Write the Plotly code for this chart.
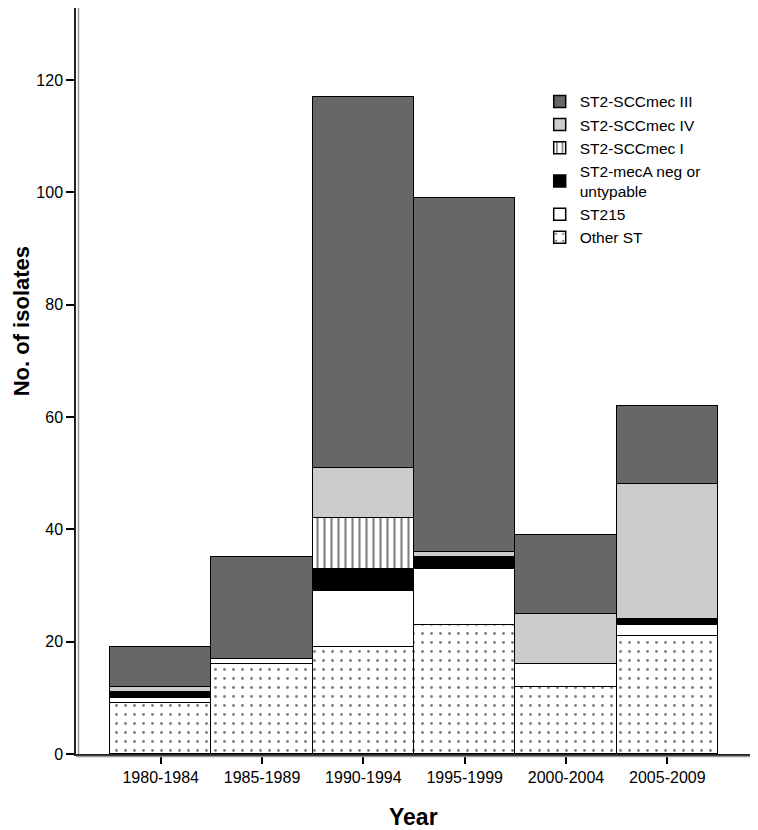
import plotly.graph_objects as go

years = ["1980-1984", "1985-1989", "1990-1994", "1995-1999", "2000-2004", "2005-2009"]

other_st = [9, 16, 19, 23, 12, 21]
st215 = [1, 1, 10, 10, 4, 2]
st2_meca_neg = [1, 0, 4, 2, 0, 1]
st2_sccmec_i = [0, 0, 9, 0, 0, 0]
st2_sccmec_iv = [1, 0, 9, 1, 9, 24]
st2_sccmec_iii = [7, 18, 66, 63, 14, 14]

series = [
    ("Other ST", other_st, dict(color="white", pattern=dict(shape=".", fgcolor="black", bgcolor="white", size=9, solidity=0.08))),
    ("ST215", st215, dict(color="white")),
    ("ST2-mecA neg or<br>untypable", st2_meca_neg, dict(color="black")),
    ("ST2-SCCmec I", st2_sccmec_i, dict(color="white", pattern=dict(shape="|", fgcolor="black", bgcolor="white", size=7, solidity=0.3))),
    ("ST2-SCCmec IV", st2_sccmec_iv, dict(color="#cccccc")),
    ("ST2-SCCmec III", st2_sccmec_iii, dict(color="#676767")),
]

fig = go.Figure()
for name, vals, mk in series:
    mk = dict(mk)
    mk["line"] = dict(color="black", width=1.5)
    fig.add_trace(go.Bar(x=years, y=vals, name=name, marker=mk, width=1))

fig.update_layout(
    width=750, height=822,
    margin=dict(l=68, r=8, t=0, b=76),
    paper_bgcolor="white", plot_bgcolor="white",
    barmode="stack", bargap=0,
    font=dict(family="Liberation Sans, Arial, sans-serif", color="black"),
    showlegend=True,
    legend=dict(x=0.688, y=0.897, xanchor="left", yanchor="top",
                traceorder="reversed", font=dict(size=15.5),
                bgcolor="rgba(0,0,0,0)", tracegroupgap=0, itemwidth=30),
    xaxis=dict(range=[-0.836, 5.816], showline=True, linecolor="#222", linewidth=1.5,
               ticks="outside", ticklen=8, tickwidth=2, tickcolor="black",
               tickfont=dict(size=16), showgrid=False, zeroline=False),
    yaxis=dict(range=[0, 132.8], showline=True, linecolor="#222", linewidth=1.5,
               ticks="outside", ticklen=8, tickwidth=1.5, tickcolor="black",
               tickvals=[0, 20, 40, 60, 80, 100, 120], tickfont=dict(size=16),
               showgrid=False, zeroline=False),
    shapes=[
        dict(type="line", xref="paper", yref="paper", xsizemode="pixel", xanchor=0,
             x0=2.5, x1=2.5, y0=0, y1=1, line=dict(color="#999", width=1.5)),
        dict(type="line", xref="paper", yref="paper", ysizemode="pixel", yanchor=0,
             x0=0, x1=1, y0=-2.5, y1=-2.5, line=dict(color="#999", width=1.5)),
    ],
    annotations=[
        dict(text="<b>No. of isolates</b>", xref="paper", yref="paper", x=0, y=0.58,
             xshift=-55, textangle=-90, showarrow=False, font=dict(size=22),
             xanchor="center", yanchor="middle"),
        dict(text="<b>Year</b>", xref="paper", yref="paper", x=0.5, y=0,
             yshift=-63, showarrow=False, font=dict(size=23),
             xanchor="center", yanchor="middle"),
    ],
)

fig.write_html("out.html")
